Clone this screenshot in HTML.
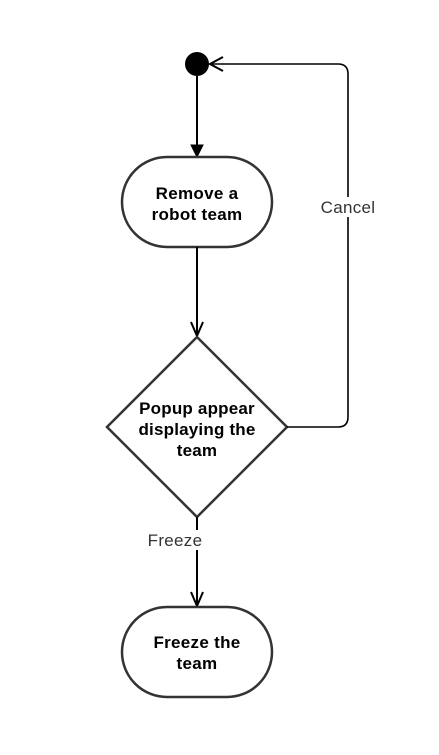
<!DOCTYPE html>
<html><head><style>body{margin:0;background:#fff}</style></head><body>
<svg width="439" height="750" xmlns="http://www.w3.org/2000/svg" font-family="Liberation Sans, Arial, sans-serif">
<circle cx="197" cy="64" r="12" fill="#000"/>
<line x1="197" y1="76" x2="197" y2="146" stroke="#000" stroke-width="2"/>
<polygon points="191,145 203,145 197,157" fill="#000" stroke="#000" stroke-width="1"/>
<rect x="122" y="157" width="150" height="90" rx="45" fill="#fff" stroke="#333" stroke-width="2.5"/>
<text x="197" y="199" text-anchor="middle" font-size="17" font-weight="bold" letter-spacing="0.3">Remove a</text>
<text x="197" y="220" text-anchor="middle" font-size="17" font-weight="bold" letter-spacing="0.3">robot team</text>
<line x1="197" y1="247" x2="197" y2="336" stroke="#000" stroke-width="2"/>
<polyline points="191,322 197,336 203,322" fill="none" stroke="#000" stroke-width="2"/>
<polygon points="197,337 287,427 197,517 107,427" fill="#fff" stroke="#333" stroke-width="2.5"/>
<text x="197" y="414" text-anchor="middle" font-size="17" font-weight="bold" letter-spacing="0.2">Popup appear</text>
<text x="197" y="435" text-anchor="middle" font-size="17" font-weight="bold" letter-spacing="0.2">displaying the</text>
<text x="197" y="456" text-anchor="middle" font-size="17" font-weight="bold" letter-spacing="0.2">team</text>
<path d="M287,427 H338 Q348,427 348,417 V74 Q348,64 338,64 H210" fill="none" stroke="#000" stroke-width="1.6"/>
<polyline points="223,57 210,64 223,71" fill="none" stroke="#000" stroke-width="2"/>
<rect x="316" y="197" width="64" height="20" fill="#fff"/>
<text x="348" y="213" text-anchor="middle" font-size="17" fill="#333" letter-spacing="0.3">Cancel</text>
<line x1="197" y1="517" x2="197" y2="606" stroke="#000" stroke-width="2"/>
<rect x="144" y="530" width="64" height="20" fill="#fff"/>
<text x="175" y="546" text-anchor="middle" font-size="17" fill="#333" letter-spacing="0.3">Freeze</text>
<polyline points="191,592 197,606 203,592" fill="none" stroke="#000" stroke-width="2"/>
<rect x="122" y="607" width="150" height="90" rx="45" fill="#fff" stroke="#333" stroke-width="2.5"/>
<text x="197" y="648" text-anchor="middle" font-size="17" font-weight="bold" letter-spacing="0.3">Freeze the</text>
<text x="197" y="669" text-anchor="middle" font-size="17" font-weight="bold" letter-spacing="0.3">team</text>
</svg>
</body></html>
